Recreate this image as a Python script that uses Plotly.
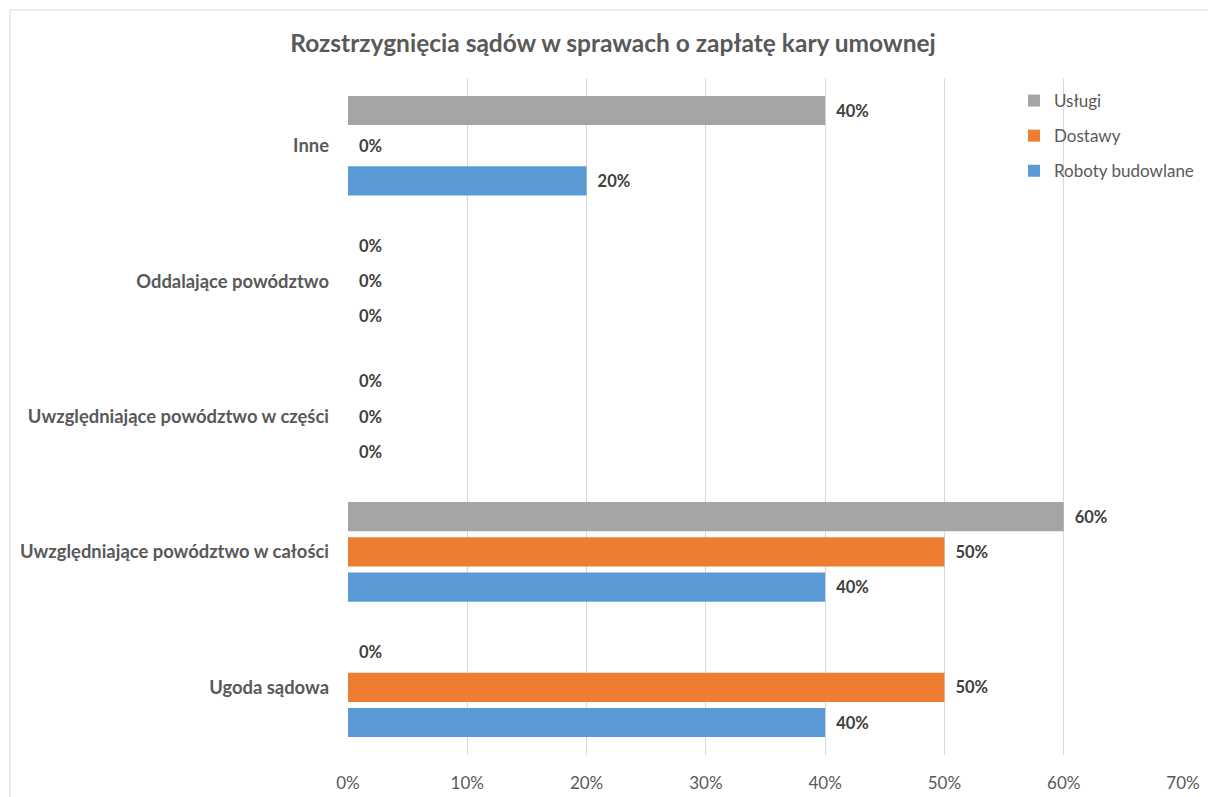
import plotly.graph_objects as go

categories = ["Ugoda sądowa", "Uwzględniające powództwo w całości",
              "Uwzględniające powództwo w części", "Oddalające powództwo", "Inne"]
roboty = [0.40, 0.40, 0.0, 0.0, 0.20]
dostawy = [0.50, 0.50, 0.0, 0.0, 0.0]
uslugi = [0.0, 0.60, 0.0, 0.0, 0.40]
x_ticks = [0, 0.1, 0.2, 0.3, 0.4, 0.5, 0.6, 0.7]

series = [
    ("Roboty budowlane", roboty, "#5b9bd5", 3),
    ("Dostawy", dostawy, "#ed7d31", 2),
    ("Usługi", uslugi, "#a5a5a5", 1),
]

FONT = "Lato, 'Open Sans', sans-serif"
fig = go.Figure()
for name, vals, color, rank in series:
    fig.add_trace(go.Bar(
        y=categories, x=vals, name=name, orientation="h",
        marker=dict(color=color, line=dict(width=0)),
        text=[f"{round(v*100)}%" for v in vals],
        texttemplate="  %{text}",
        textposition="outside", cliponaxis=False,
        textfont=dict(family=FONT, size=16.5, color="#404040", weight="bold"),
        legendgroup=name, legendrank=rank,
    ))

L, R, T, B = 348, 25, 78, 42
W, H = 1208, 797
pw, ph = W - L - R, H - T - B

fig.update_layout(
    width=W, height=H,
    margin=dict(l=L, r=R, t=T, b=B, autoexpand=False),
    paper_bgcolor="white", plot_bgcolor="white",
    barmode="group", bargap=0.22, bargroupgap=0.17,
    title=dict(text="<b>Rozstrzygnięcia sądów w sprawach o zapłatę kary umownej</b>",
               x=613 / W, xanchor="center", y=1 - 43 / H, yanchor="middle",
               font=dict(family=FONT, size=24.5, color="#595959")),
    font=dict(family=FONT, color="#595959"),
    legend=dict(x=(1014 - L) / pw, y=(H - B - 83) / ph, xanchor="left", yanchor="top",
                traceorder="grouped", tracegroupgap=10, bgcolor="rgba(0,0,0,0)",
                font=dict(family=FONT, size=17, color="#595959"),
                itemwidth=30),
    xaxis=dict(range=[0, 0.7], tickvals=x_ticks, ticktext=[f"{round(v*100)}%" for v in x_ticks],
               showgrid=True, gridcolor="#d9d9d9", gridwidth=1, zeroline=False,
               showline=False, tickfont=dict(family=FONT, size=17, color="#595959"),
               ticklabelstandoff=16, automargin=False),
    yaxis=dict(showgrid=False, zeroline=False, showline=False,
               tickfont=dict(family=FONT, size=18.4, color="#595959", weight="bold"),
               ticklabelstandoff=18, automargin=False),
    shapes=[dict(type="rect", xref="paper", yref="paper",
                 x0=(10 - L) / pw, x1=1.2, y0=-0.2, y1=(H - B - 10) / ph,
                 line=dict(color="#d9d9d9", width=1), fillcolor="rgba(0,0,0,0)", layer="below")],
)

fig.write_html("out.html")
